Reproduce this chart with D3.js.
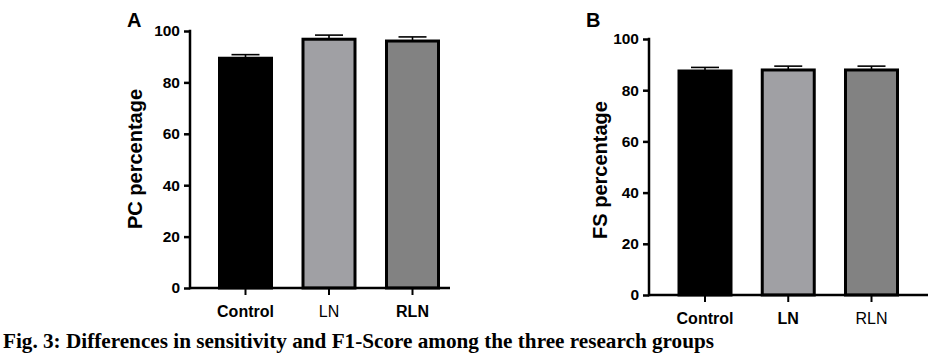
<!DOCTYPE html>
<html>
<head>
<meta charset="utf-8">
<script src="https://cdn.jsdelivr.net/npm/d3@7"></script>
<style>
  body { margin: 0; background: #fff; }
  svg { display: block; font-family: "Liberation Sans", Arial, sans-serif; }
</style>
</head>
<body>
<svg id="fig" width="946" height="362"></svg>
<script>
var groups = ["Control", "LN", "RLN"];
var fills = ["#000000", "#a0a0a4", "#828282"];
var yTicks = [0, 20, 40, 60, 80, 100];

// panel A : PC percentage
var pcMean = [89.4, 96.8, 96.1];
var pcErr = [1.4, 1.6, 1.6];
// panel B : FS percentage
var fsMean = [87.5, 87.9, 87.9];
var fsErr = [1.4, 1.5, 1.5];

var labelWeightA = ["600", "normal", "bold"];
var labelWeightB = ["600", "bold", "normal"];

var svg = d3.select("#fig");

var panel = function(opt){
    var g = svg.append("g");

    var y = d3.scaleLinear().domain([0, 100]).range([opt.bottom, opt.top]);
    var x = d3.scalePoint().domain(groups).range([opt.first, opt.last]);
    var bw = 52;

    // bars
    g.selectAll("rect.bar")
        .data(groups)
        .enter()
        .append("rect")
        .attr("class", "bar")
        .attr("x", function(d){ return x(d) - bw/2; })
        .attr("y", function(d, i){ return y(opt.mean[i]); })
        .attr("width", bw)
        .attr("height", function(d, i){ return opt.bottom - y(opt.mean[i]); })
        .attr("fill", function(d, i){ return fills[i]; })
        .attr("stroke", "#000")
        .attr("stroke-width", 3);

    // error bars (upper only)
    g.selectAll("line.err")
        .data(groups)
        .enter()
        .append("line")
        .attr("x1", function(d){ return x(d); })
        .attr("x2", function(d){ return x(d); })
        .attr("y1", function(d, i){ return y(opt.mean[i]); })
        .attr("y2", function(d, i){ return y(opt.mean[i] + opt.err[i]); })
        .attr("stroke", "#000").attr("stroke-width", 1.6);
    g.selectAll("line.cap")
        .data(groups)
        .enter()
        .append("line")
        .attr("x1", function(d){ return x(d) - 14; })
        .attr("x2", function(d){ return x(d) + 14; })
        .attr("y1", function(d, i){ return y(opt.mean[i] + opt.err[i]); })
        .attr("y2", function(d, i){ return y(opt.mean[i] + opt.err[i]); })
        .attr("stroke", "#000").attr("stroke-width", 1.6);

    // y axis
    var yAxis = g.append("g")
        .attr("transform", "translate(" + opt.left + ",0)")
        .call(d3.axisLeft(y).tickValues(yTicks).tickSize(6).tickPadding(4));
    yAxis.select(".domain").remove();
    yAxis.selectAll("line").attr("stroke", "#000").attr("stroke-width", 2.5);
    yAxis.selectAll("text")
        .attr("font-size", 15.5).attr("font-weight", "bold")
        .attr("font-family", "Liberation Sans, Arial, sans-serif")
        .attr("fill", "#000");
    g.append("line")
        .attr("x1", opt.left).attr("x2", opt.left)
        .attr("y1", opt.top - 1.2).attr("y2", opt.bottom + 1.2)
        .attr("stroke", "#000").attr("stroke-width", 2.5);

    // x axis
    g.append("line")
        .attr("x1", opt.left).attr("x2", opt.right)
        .attr("y1", opt.bottom).attr("y2", opt.bottom)
        .attr("stroke", "#000").attr("stroke-width", 2.5);
    g.selectAll("line.xt")
        .data(groups)
        .enter()
        .append("line")
        .attr("x1", function(d){ return x(d); })
        .attr("x2", function(d){ return x(d); })
        .attr("y1", opt.bottom)
        .attr("y2", opt.bottom + 7)
        .attr("stroke", "#000").attr("stroke-width", 2);
    g.selectAll("text.xl")
        .data(groups)
        .enter()
        .append("text")
        .attr("x", function(d){ return x(d); })
        .attr("y", opt.bottom + 29)
        .attr("text-anchor", "middle")
        .attr("font-size", 16)
        .attr("font-weight", function(d, i){ return opt.weights[i]; })
        .text(function(d){ return d; });

    // axis title
    g.append("text")
        .attr("transform", "translate(" + opt.titleX + "," + opt.titleY + ") rotate(-90)")
        .attr("text-anchor", "middle")
        .attr("font-size", 20)
        .attr("font-weight", "bold")
        .text(opt.title);

    // panel letter
    g.append("text")
        .attr("x", opt.letterX).attr("y", 27)
        .attr("font-size", 20).attr("font-weight", "bold")
        .text(opt.letter);
};

panel({mean: pcMean, err: pcErr, top: 31, bottom: 288, left: 190, right: 450,
       first: 245.5, last: 412.5, weights: labelWeightA, title: "PC percentage",
       titleX: 142, titleY: 159, letter: "A", letterX: 127});

panel({mean: fsMean, err: fsErr, top: 39, bottom: 295, left: 649, right: 928,
       first: 705, last: 871.5, weights: labelWeightB, title: "FS percentage",
       titleX: 607, titleY: 170, letter: "B", letterX: 586});

svg.append("text")
    .attr("x", 3).attr("y", 348)
    .attr("font-family", "Liberation Serif, Times New Roman, serif")
    .attr("font-size", 21.5)
    .attr("font-weight", "bold")
    .attr("textLength", 711)
    .attr("lengthAdjust", "spacingAndGlyphs")
    .text("Fig. 3: Differences in sensitivity and F1-Score among the three research groups");
</script>
</body>
</html>
